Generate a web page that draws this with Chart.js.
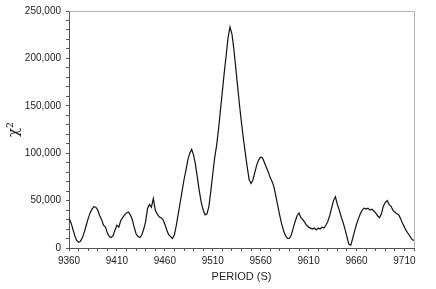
<!DOCTYPE html>
<html>
<head>
<meta charset="utf-8">
<script src="https://cdn.jsdelivr.net/npm/chart.js@4/dist/chart.umd.min.js"></script>
<style>
html,body{margin:0;padding:0;background:#fff;}
#wrap{width:436px;height:289px;position:relative;}
</style>
</head>
<body>
<div id="wrap"><canvas id="c" width="436" height="289"></canvas></div>
<script>
const periods = [9360,9362,9364,9366,9368,9370,9372,9374,9376,9378,9380,9382,9384,9386,9388,9390,9392,9394,9396,9398,
9400,9402,9404,9406,9408,9410,9412,9414,9416,9418,9420,9422,9424,9426,9428,9430,9432,9434,9436,9438,
9440,9442,9444,9446,9448,9450,9452,9454,9456,9458,9460,9462,9464,9466,9468,9470,9472,9474,9476,9478,
9480,9482,9484,9486,9488,9490,9492,9494,9496,9498,9500,9502,9504,9506,9508,9510,9512,9514,9516,9518,
9520,9522,9524,9526,9528,9530,9532,9534,9536,9538,9540,9542,9544,9546,9548,9550,9552,9554,9556,9558,
9560,9562,9564,9566,9568,9570,9572,9574,9576,9578,9580,9582,9584,9586,9588,9590,9592,9594,9596,9598,
9600,9602,9604,9606,9608,9610,9612,9614,9616,9618,9620,9622,9624,9626,9628,9630,9632,9634,9636,9638,
9640,9642,9644,9646,9648,9650,9652,9654,9656,9658,9660,9662,9664,9666,9668,9670,9672,9674,9676,9678,
9680,9682,9684,9686,9688,9690,9692,9694,9696,9698,9700,9702,9704,9706,9708,9710,9712,9714,9716,9718,9720];
const chi2 = [31000,27000,20000,13000,8000,6000,7000,11000,17000,24000,31000,37000,41000,43500,43000,40000,34000,30000,24000,22000,
16000,12000,11000,13000,19000,24000,22000,29000,32000,35000,37000,38000,35000,30000,22000,15000,12000,11000,14000,20000,
28000,42000,46000,43000,52000,40000,36000,33000,32000,30000,25000,19000,14000,12000,10000,14000,24000,36000,48000,60000,
72000,82000,93000,100000,104000,98000,88000,74000,60000,48000,40000,35000,36000,44000,60000,78000,95000,108000,125000,145000,
165000,185000,203000,222000,233000,226000,210000,190000,170000,150000,132000,115000,100000,85000,72000,68000,72000,80000,88000,93000,
96000,95000,90000,85000,80000,74000,70000,64000,54000,44000,34000,25000,18000,13000,10000,10000,14000,21000,28000,34000,
37000,32000,30000,27000,24000,22000,21000,20000,21000,19000,21000,20000,22000,21000,24000,28000,34000,42000,50000,54000,
46000,40000,33000,27000,20000,12000,4000,3000,10000,18000,25000,31000,36000,40000,42000,41000,42000,40000,41000,39000,
37000,34000,32000,36000,44000,48000,50000,46000,44000,40000,38000,36000,35000,31000,26000,22000,18000,15000,12000,9000,8000];
const xTickValues = [];
for (let v = 9360; v <= 9720; v += 10) xTickValues.push(v);
const xLabelValues = [9360,9410,9460,9510,9560,9610,9660,9710];
const yTickValues = [];
for (let v = 0; v <= 250000; v += 10000) yTickValues.push(v);
const yLabelValues = [0,50000,100000,150000,200000,250000];

const points = periods.map((p,i)=>({x:p,y:chi2[i]}));

const frame = {
  id:'frame',
  afterDraw(chart){
    const a = chart.chartArea, ctx = chart.ctx;
    ctx.save();
    ctx.strokeStyle = '#b4b4b4';
    ctx.lineWidth = 1;
    ctx.beginPath();
    ctx.moveTo(a.left, a.top+0.5);
    ctx.lineTo(a.right+0.5, a.top+0.5);
    ctx.lineTo(a.right+0.5, a.bottom);
    ctx.stroke();
    ctx.restore();
  }
};

new Chart(document.getElementById('c'), {
  type:'line',
  data:{datasets:[{data:points,borderColor:'#111',borderWidth:1.2,pointRadius:0,tension:0,fill:false}]},
  options:{
    responsive:false,
    animation:false,
    events:[],
    layout:{padding:{top:7,right:22,left:0,bottom:0}},
    plugins:{legend:{display:false},tooltip:{enabled:false}},
    scales:{
      x:{
        type:'linear',min:9360,max:9720,
        afterBuildTicks(s){ s.ticks = xTickValues.map(v=>({value:v})); },
        afterFit(s){ s.height = 41; },
        ticks:{autoSkip:false,maxRotation:0,padding:4,color:'#222',font:{family:'Liberation Sans, Arial, sans-serif',size:10},
          callback(v){ return xLabelValues.includes(v) ? String(v) : ''; }},
        grid:{drawOnChartArea:false,drawTicks:true,tickLength:3,color:'#555'},
        border:{color:'#555'},
        title:{display:true,text:'PERIOD (S)',color:'#222',font:{family:'Liberation Sans, Arial, sans-serif',size:11},padding:{top:0,bottom:5}}
      },
      y:{
        type:'linear',min:0,max:250000,
        afterBuildTicks(s){ s.ticks = yTickValues.map(v=>({value:v})); },
        afterFit(s){ s.width = 69; },
        ticks:{autoSkip:false,padding:5,color:'#222',font:{family:'Liberation Sans, Arial, sans-serif',size:10},
          callback(v){ return yLabelValues.includes(v) ? v.toLocaleString('en-US') : ''; }},
        grid:{drawOnChartArea:false,drawTicks:true,tickLength:3,color:'#555'},
        border:{color:'#555'},
        title:{display:true,text:'χ²',color:'#222',font:{family:'DejaVu Serif, serif',size:15},padding:{top:5,bottom:0}}
      }
    }
  },
  plugins:[frame]
});
</script>
</body>
</html>
